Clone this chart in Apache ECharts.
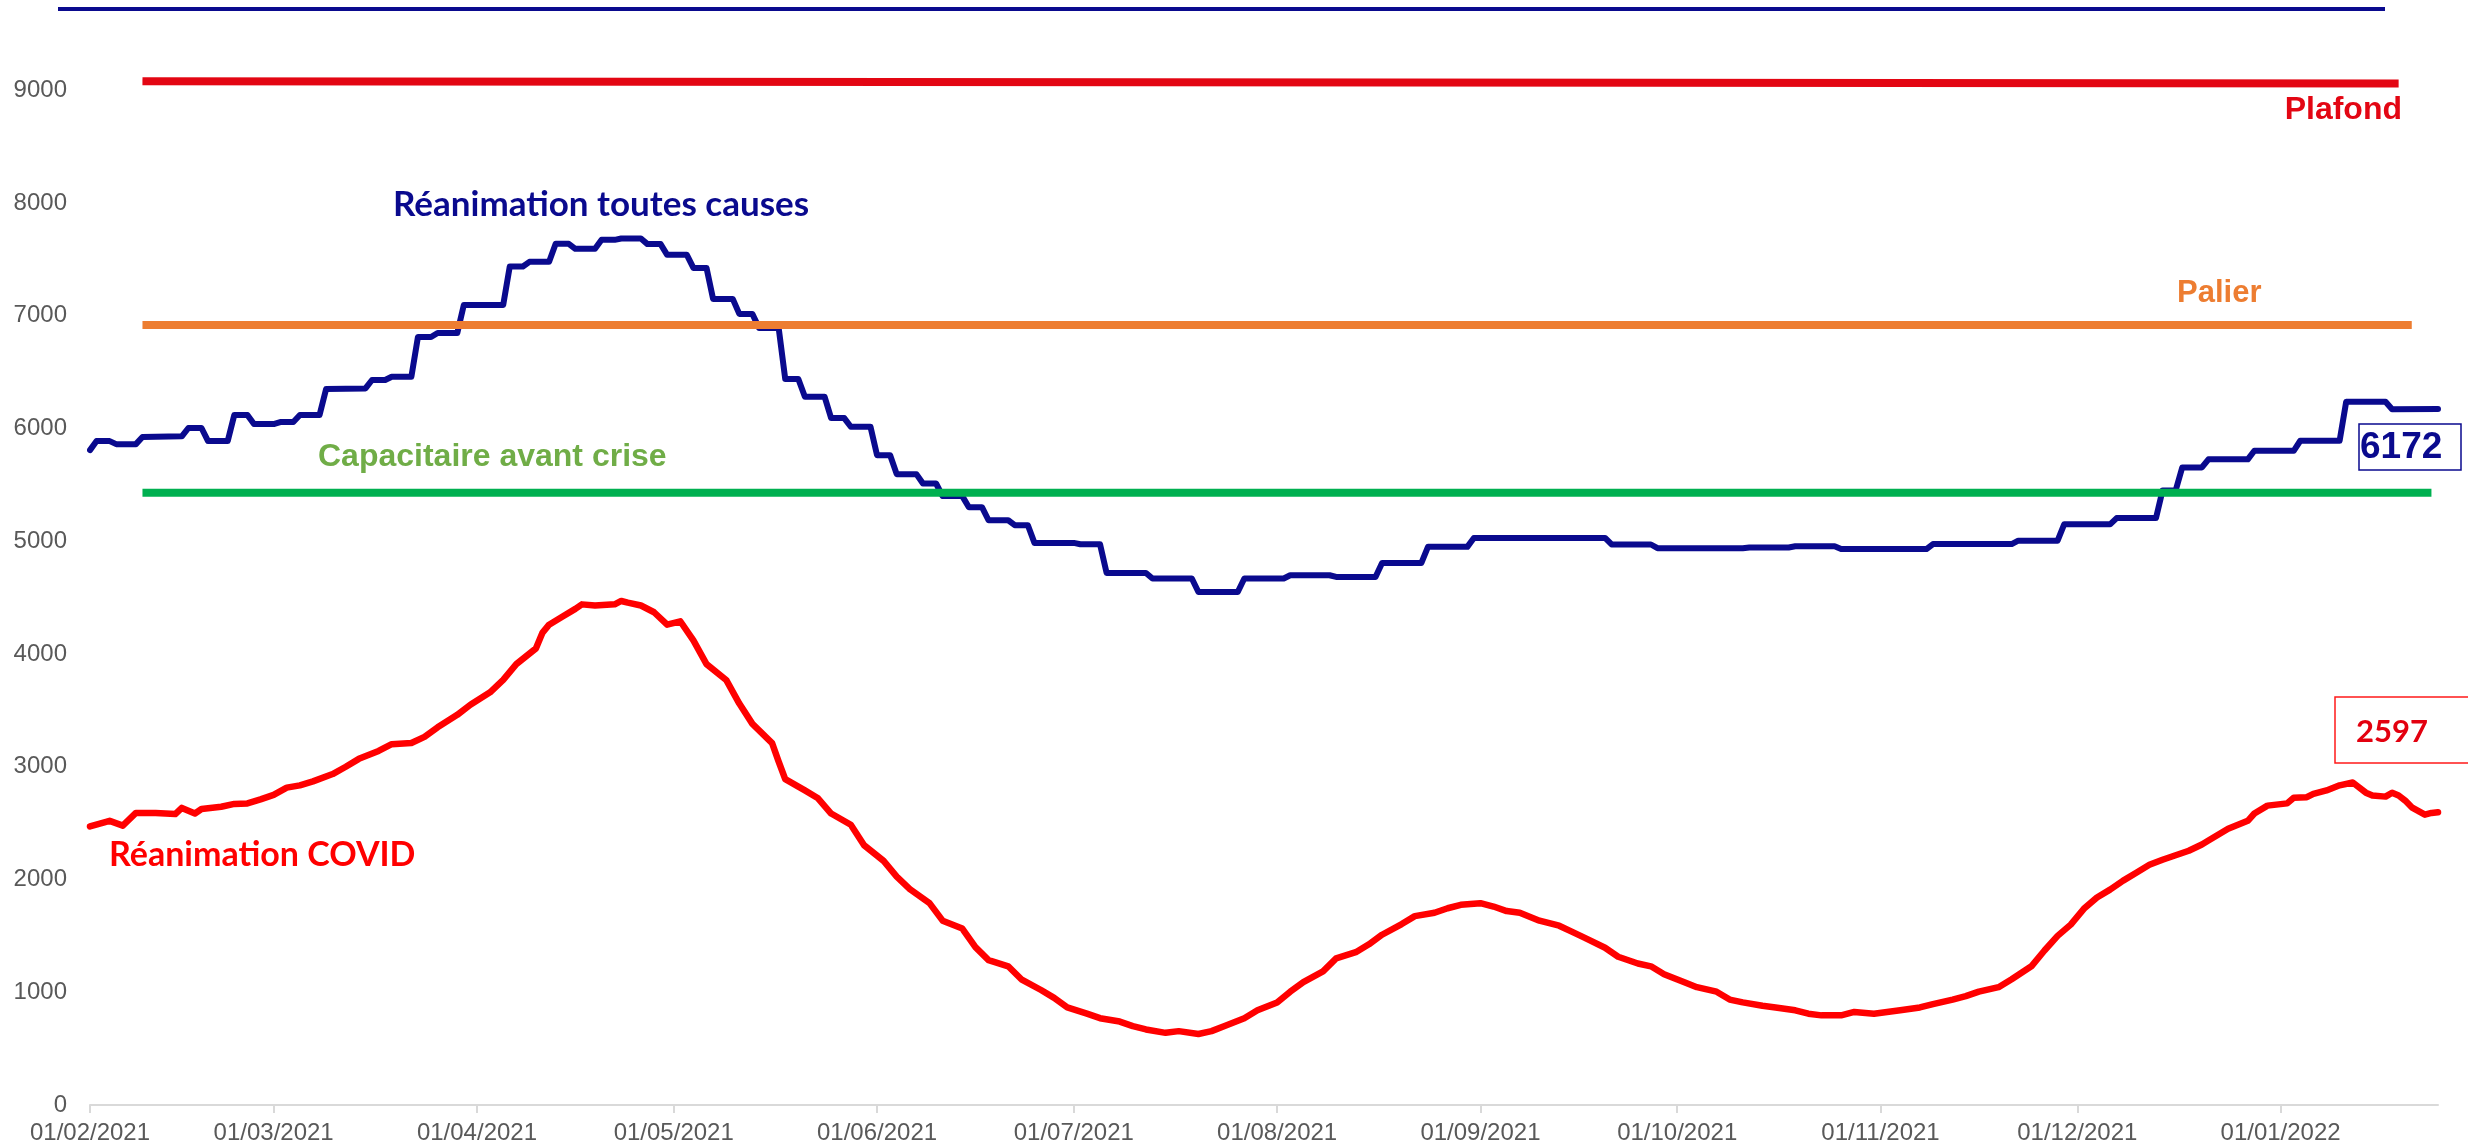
<!DOCTYPE html>
<html>
<head>
<meta charset="utf-8">
<script src="https://cdn.jsdelivr.net/npm/echarts@6/dist/echarts.min.js"></script>
<style>
  html, body { margin: 0; padding: 0; background: #fff; }
  #chart { width: 2468px; height: 1146px; }
</style>
</head>
<body>
<div id="chart"></div>
<script>
// daily categories, 01/02/2021 -> 25/01/2022
var dayCount = 359;
var dates = [];

function pad(n) {
    return n < 10 ? '0' + n : '' + n;
}

for (let i = 0; i < dayCount; i++) {
    let d = new Date(2021, 1, 1 + i);
    dates.push(pad(d.getDate()) + '/' + pad(d.getMonth() + 1) + '/' + d.getFullYear());
}

var yTicks = [0, 1000, 2000, 3000, 4000, 5000, 6000, 7000, 8000, 9000];

// Réanimation COVID
var reaCovid = [
    ['01/02/2021', 2470], ['04/02/2021', 2520], ['06/02/2021', 2478], ['08/02/2021', 2590],
    ['11/02/2021', 2590], ['14/02/2021', 2580], ['15/02/2021', 2635], ['17/02/2021', 2585],
    ['18/02/2021', 2625], ['21/02/2021', 2645], ['23/02/2021', 2670], ['25/02/2021', 2675],
    ['27/02/2021', 2710], ['01/03/2021', 2750], ['03/03/2021', 2815], ['05/03/2021', 2835],
    ['07/03/2021', 2870], ['10/03/2021', 2935], ['12/03/2021', 3000], ['14/03/2021', 3070],
    ['17/03/2021', 3140], ['19/03/2021', 3200], ['22/03/2021', 3210], ['24/03/2021', 3265],
    ['26/03/2021', 3350], ['29/03/2021', 3460], ['31/03/2021', 3550], ['03/04/2021', 3660],
    ['05/04/2021', 3770], ['07/04/2021', 3910], ['10/04/2021', 4050], ['11/04/2021', 4190],
    ['12/04/2021', 4260], ['14/04/2021', 4330], ['16/04/2021', 4400], ['17/04/2021', 4440],
    ['19/04/2021', 4430], ['22/04/2021', 4440], ['23/04/2021', 4470], ['24/04/2021', 4455],
    ['26/04/2021', 4430], ['28/04/2021', 4370], ['30/04/2021', 4260], ['02/05/2021', 4290],
    ['04/05/2021', 4120], ['06/05/2021', 3910], ['09/05/2021', 3770], ['11/05/2021', 3560],
    ['13/05/2021', 3380], ['16/05/2021', 3210], ['17/05/2021', 3045], ['18/05/2021', 2890],
    ['21/05/2021', 2790], ['23/05/2021', 2720], ['25/05/2021', 2585], ['28/05/2021', 2485],
    ['30/05/2021', 2305], ['02/06/2021', 2165], ['04/06/2021', 2025], ['06/06/2021', 1915],
    ['09/06/2021', 1790], ['11/06/2021', 1635], ['14/06/2021', 1565], ['16/06/2021', 1400],
    ['18/06/2021', 1285], ['21/06/2021', 1230], ['23/06/2021', 1115], ['26/06/2021', 1020],
    ['28/06/2021', 950], ['30/06/2021', 865], ['03/07/2021', 810], ['05/07/2021', 770],
    ['08/07/2021', 740], ['10/07/2021', 700], ['12/07/2021', 670], ['15/07/2021', 640],
    ['17/07/2021', 655], ['20/07/2021', 630], ['22/07/2021', 655], ['24/07/2021', 700],
    ['27/07/2021', 770], ['29/07/2021', 840], ['01/08/2021', 910], ['03/08/2021', 1005],
    ['05/08/2021', 1090], ['08/08/2021', 1185], ['10/08/2021', 1300], ['13/08/2021', 1355],
    ['15/08/2021', 1425], ['17/08/2021', 1510], ['20/08/2021', 1605], ['22/08/2021', 1675],
    ['25/08/2021', 1705], ['27/08/2021', 1745], ['29/08/2021', 1775], ['01/09/2021', 1790],
    ['03/09/2021', 1760], ['05/09/2021', 1720], ['07/09/2021', 1705], ['10/09/2021', 1635],
    ['13/09/2021', 1590], ['15/09/2021', 1535], ['17/09/2021', 1480], ['20/09/2021', 1395],
    ['22/09/2021', 1315], ['25/09/2021', 1255], ['27/09/2021', 1230], ['29/09/2021', 1160],
    ['02/10/2021', 1090], ['04/10/2021', 1045], ['07/10/2021', 1005], ['09/10/2021', 935],
    ['11/10/2021', 910], ['14/10/2021', 880], ['16/10/2021', 865], ['19/10/2021', 840],
    ['21/10/2021', 810], ['23/10/2021', 795], ['26/10/2021', 795], ['28/10/2021', 825],
    ['31/10/2021', 810], ['02/11/2021', 825], ['04/11/2021', 840], ['07/11/2021', 865],
    ['09/11/2021', 895], ['12/11/2021', 935], ['14/11/2021', 965], ['16/11/2021', 1005],
    ['19/11/2021', 1045], ['21/11/2021', 1115], ['24/11/2021', 1230], ['26/11/2021', 1370],
    ['28/11/2021', 1500], ['30/11/2021', 1600], ['02/12/2021', 1740], ['04/12/2021', 1840],
    ['06/12/2021', 1910], ['08/12/2021', 1990], ['10/12/2021', 2060], ['12/12/2021', 2130],
    ['14/12/2021', 2175], ['16/12/2021', 2215], ['18/12/2021', 2255], ['20/12/2021', 2310],
    ['21/12/2021', 2345], ['24/12/2021', 2450], ['27/12/2021', 2520], ['28/12/2021', 2585],
    ['30/12/2021', 2655], ['02/01/2022', 2675], ['03/01/2022', 2725], ['05/01/2022', 2730],
    ['06/01/2022', 2760], ['08/01/2022', 2790], ['10/01/2022', 2835], ['12/01/2022', 2860],
    ['14/01/2022', 2770], ['15/01/2022', 2745], ['17/01/2022', 2735], ['18/01/2022', 2770],
    ['19/01/2022', 2745], ['20/01/2022', 2700], ['21/01/2022', 2640], ['23/01/2022', 2575],
    ['24/01/2022', 2590], ['25/01/2022', 2597]
];

// Réanimation toutes causes (stepped series)
var reaTotal = [
    ['01/02/2021', 5808], ['02/02/2021', 5888], ['04/02/2021', 5888], ['05/02/2021', 5861],
    ['08/02/2021', 5861], ['09/02/2021', 5924], ['15/02/2021', 5930], ['16/02/2021', 6004],
    ['18/02/2021', 6004], ['19/02/2021', 5888], ['22/02/2021', 5888], ['23/02/2021', 6119],
    ['25/02/2021', 6119], ['26/02/2021', 6039], ['01/03/2021', 6039], ['02/03/2021', 6057],
    ['04/03/2021', 6057], ['05/03/2021', 6119], ['08/03/2021', 6119], ['09/03/2021', 6350],
    ['15/03/2021', 6355], ['16/03/2021', 6430], ['18/03/2021', 6430], ['19/03/2021', 6459],
    ['22/03/2021', 6459], ['23/03/2021', 6811], ['25/03/2021', 6811], ['26/03/2021', 6847],
    ['29/03/2021', 6847], ['30/03/2021', 7096], ['05/04/2021', 7096], ['06/04/2021', 7436],
    ['08/04/2021', 7436], ['09/04/2021', 7478], ['12/04/2021', 7478], ['13/04/2021', 7638],
    ['15/04/2021', 7638], ['16/04/2021', 7593], ['19/04/2021', 7593], ['20/04/2021', 7673],
    ['22/04/2021', 7673], ['23/04/2021', 7685], ['26/04/2021', 7685], ['27/04/2021', 7635],
    ['29/04/2021', 7635], ['30/04/2021', 7540], ['03/05/2021', 7540], ['04/05/2021', 7424],
    ['06/05/2021', 7424], ['07/05/2021', 7149], ['10/05/2021', 7149], ['11/05/2021', 7016],
    ['13/05/2021', 7016], ['14/05/2021', 6892], ['17/05/2021', 6892], ['18/05/2021', 6439],
    ['20/05/2021', 6439], ['21/05/2021', 6282], ['24/05/2021', 6282], ['25/05/2021', 6092],
    ['27/05/2021', 6092], ['28/05/2021', 6015], ['31/05/2021', 6015], ['01/06/2021', 5763],
    ['03/06/2021', 5763], ['04/06/2021', 5595], ['07/06/2021', 5595], ['08/06/2021', 5512],
    ['10/06/2021', 5512], ['11/06/2021', 5400], ['14/06/2021', 5400], ['15/06/2021', 5302],
    ['17/06/2021', 5302], ['18/06/2021', 5186], ['21/06/2021', 5186], ['22/06/2021', 5142],
    ['24/06/2021', 5142], ['25/06/2021', 4985], ['01/07/2021', 4985], ['02/07/2021', 4973],
    ['05/07/2021', 4973], ['06/07/2021', 4719], ['12/07/2021', 4719], ['13/07/2021', 4669],
    ['19/07/2021', 4669], ['20/07/2021', 4550], ['26/07/2021', 4550], ['27/07/2021', 4669],
    ['02/08/2021', 4669], ['03/08/2021', 4698], ['09/08/2021', 4698], ['10/08/2021', 4683],
    ['16/08/2021', 4683], ['17/08/2021', 4807], ['23/08/2021', 4807], ['24/08/2021', 4950],
    ['30/08/2021', 4950], ['31/08/2021', 5029], ['20/09/2021', 5029], ['21/09/2021', 4971],
    ['27/09/2021', 4971], ['28/09/2021', 4938], ['11/10/2021', 4938], ['12/10/2021', 4945],
    ['18/10/2021', 4945], ['19/10/2021', 4955], ['25/10/2021', 4955], ['26/10/2021', 4930],
    ['08/11/2021', 4930], ['09/11/2021', 4975], ['21/11/2021', 4975], ['22/11/2021', 5005],
    ['28/11/2021', 5005], ['29/11/2021', 5150], ['06/12/2021', 5150], ['07/12/2021', 5205],
    ['13/12/2021', 5205], ['14/12/2021', 5450], ['16/12/2021', 5450], ['17/12/2021', 5654],
    ['20/12/2021', 5654], ['21/12/2021', 5726], ['27/12/2021', 5726], ['28/12/2021', 5802],
    ['03/01/2022', 5802], ['04/01/2022', 5891], ['10/01/2022', 5891], ['11/01/2022', 6237],
    ['17/01/2022', 6237], ['18/01/2022', 6170], ['25/01/2022', 6172]
];

// reference levels
var plafond = [['09/02/2021', 9080], ['19/01/2022', 9060]];
var palier = [['09/02/2021', 6918], ['21/01/2022', 6918]];
var capacitaire = [['09/02/2021', 5429], ['24/01/2022', 5429]];

var navy = '#0a0a8e';
var font = '"Liberation Sans", Arial, sans-serif';
var calibriLike = 'Lato, "Open Sans", sans-serif';

function flatLine(name, data, color, z) {
    return {
        name: name,
        type: 'line',
        data: data,
        symbol: 'none',
        z: z,
        lineStyle: { color: color, width: 8, cap: 'butt' }
    };
}

let myChart = echarts.init(document.getElementById('chart'));

let option = {
    animation: false,
    backgroundColor: '#fff',
    textStyle: { fontFamily: font },
    grid: {
        left: 90,
        right: 30,
        top: 0,
        bottom: 41,
        outerBoundsMode: 'none'
    },
    xAxis: {
        type: 'category',
        data: dates,
        boundaryGap: false,
        axisLine: { lineStyle: { color: '#d9d9d9', width: 2 } },
        axisTick: {
            length: 8,
            lineStyle: { color: '#d9d9d9', width: 2 },
            interval: function (index, value) {
                return value.slice(0, 2) === '01';
            }
        },
        axisLabel: {
            color: '#595959',
            fontSize: 24,
            margin: 16,
            interval: function (index, value) {
                return value.slice(0, 2) === '01';
            }
        },
        splitLine: { show: false }
    },
    yAxis: {
        type: 'value',
        min: 0,
        max: 9800,
        interval: 1000,
        axisLine: { show: false },
        axisTick: { show: false },
        splitLine: { show: false },
        axisLabel: {
            color: '#595959',
            fontSize: 24,
            margin: 23,
            formatter: function (val) {
                return yTicks.indexOf(val) >= 0 ? String(val) : '';
            }
        }
    },
    series: [
        {
            name: 'Réanimation toutes causes',
            type: 'line',
            data: reaTotal,
            symbol: 'none',
            z: 3,
            lineStyle: { color: navy, width: 6, join: 'round', cap: 'round' }
        },
        flatLine('Palier', palier, '#ed7d31', 4),
        flatLine('Capacitaire avant crise', capacitaire, '#00b050', 4),
        flatLine('Plafond', plafond, '#e30613', 4),
        {
            name: 'Réanimation COVID',
            type: 'line',
            data: reaCovid,
            symbol: 'none',
            z: 5,
            lineStyle: { color: '#ff0000', width: 6.5, join: 'round', cap: 'round' }
        }
    ],
    graphic: [
        {
            type: 'line',
            shape: { x1: 58, y1: 9, x2: 2385, y2: 9 },
            style: { stroke: navy, lineWidth: 4 }
        },
        {
            type: 'text', x: 2402, y: 110,
            style: { text: 'Plafond', fill: '#e30613', font: 'bold 32px ' + font, align: 'right', verticalAlign: 'middle' }
        },
        {
            type: 'text', x: 2177, y: 293,
            style: { text: 'Palier', fill: '#ed7d31', font: 'bold 31px ' + font, align: 'left', verticalAlign: 'middle' }
        },
        {
            type: 'text', x: 393, y: 205,
            style: { text: 'Réanimation toutes causes', fill: navy, font: 'bold 35px ' + calibriLike, align: 'left', verticalAlign: 'middle' }
        },
        {
            type: 'text', x: 318, y: 457,
            style: { text: 'Capacitaire avant crise', fill: '#70ad47', font: 'bold 32px ' + font, align: 'left', verticalAlign: 'middle' }
        },
        {
            type: 'text', x: 109, y: 855,
            style: { text: 'Réanimation COVID', fill: '#ff0000', font: 'bold 34px ' + calibriLike, align: 'left', verticalAlign: 'middle' }
        },
        {
            type: 'rect',
            shape: { x: 2359, y: 424, width: 102, height: 46 },
            style: { fill: '#fff', stroke: navy, lineWidth: 1.5 },
            z: 10
        },
        {
            type: 'text', x: 2360, y: 448, z: 11,
            style: { text: '6172', fill: navy, font: 'bold 37px ' + font, align: 'left', verticalAlign: 'middle' }
        },
        {
            type: 'rect',
            shape: { x: 2335, y: 697, width: 150, height: 66 },
            style: { fill: '#fff', stroke: '#ff1a1a', lineWidth: 1.5 },
            z: 10
        },
        {
            type: 'text', x: 2356, y: 732, z: 11,
            style: { text: '2597', fill: '#e3000f', font: 'bold 31px ' + calibriLike, align: 'left', verticalAlign: 'middle' }
        }
    ]
};

myChart.setOption(option);
</script>
</body>
</html>
